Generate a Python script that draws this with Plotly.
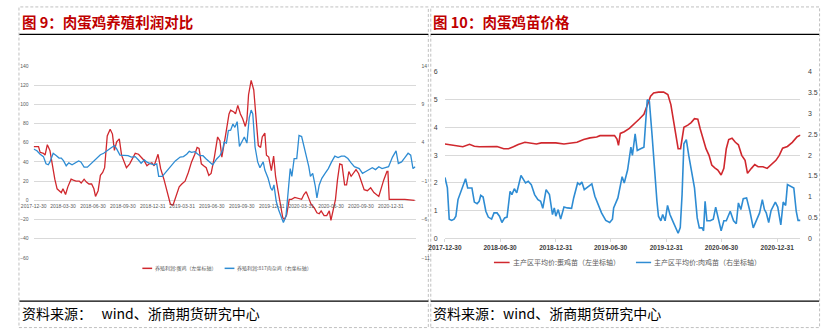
import plotly.graph_objects as go

# ---------------- DATA ----------------
# Figure 9: layer (egg) farming profit, left axis (元/只)
egg_profit_dates = ["2017-12-30","2018-01-14","2018-01-19","2018-01-29","2018-02-03","2018-02-10","2018-02-18","2018-02-26","2018-03-05","2018-03-12",
    "2018-03-20","2018-03-25","2018-03-30","2018-04-07","2018-04-14","2018-04-24","2018-05-01","2018-05-09","2018-05-19","2018-05-25",
    "2018-06-03","2018-06-10","2018-06-18","2018-06-26","2018-07-03","2018-07-08","2018-07-16","2018-07-23","2018-07-30","2018-08-05",
    "2018-08-13","2018-08-22","2018-08-29","2018-09-04","2018-09-11","2018-09-19","2018-09-26","2018-10-04","2018-10-11","2018-10-21",
    "2018-10-28","2018-11-07","2018-11-17","2018-11-25","2018-12-03","2018-12-13","2018-12-20","2018-12-28","2019-01-04","2019-01-16",
    "2019-01-24","2019-02-03","2019-02-13","2019-02-23","2019-03-03","2019-03-13","2019-03-22","2019-03-30","2019-04-09","2019-04-19",
    "2019-04-29","2019-05-09","2019-05-16","2019-05-22","2019-05-29","2019-06-05","2019-06-13","2019-06-21","2019-06-28","2019-07-08",
    "2019-07-18","2019-07-25","2019-07-31","2019-08-12","2019-08-22","2019-08-27","2019-09-06","2019-09-11","2019-09-18","2019-09-26",
    "2019-10-03","2019-10-11","2019-10-16","2019-10-21","2019-10-29","2019-11-06","2019-11-13","2019-11-20","2019-11-27","2019-12-02",
    "2019-12-10","2019-12-15","2019-12-22","2019-12-30","2020-01-06","2020-01-12","2020-01-19","2020-01-26","2020-02-03","2020-02-08",
    "2020-02-15","2020-02-23","2020-03-01","2020-03-11","2020-03-21","2020-04-01","2020-04-08","2020-04-15","2020-04-23","2020-04-30",
    "2020-05-10","2020-05-18","2020-05-25","2020-05-31","2020-06-09","2020-06-17","2020-06-25","2020-06-30","2020-07-07","2020-07-14",
    "2020-07-20","2020-07-27","2020-08-03","2020-08-11","2020-08-17","2020-08-24","2020-08-31","2020-09-08","2020-09-15","2020-09-23",
    "2020-09-30","2020-10-10","2020-10-20","2020-10-30","2020-11-09","2020-11-24","2020-12-09","2020-12-19","2020-12-22","2020-12-26",
    "2021-01-13","2021-02-12","2021-03-14"]
egg_profit = [56,56,50,49,47,58,52,34,22,12,
    9,8,12,6,14,22,21,20,20,18,
    22,19,17,17,12,4,10,26,29,34,
    67,74,69,52,61,64,47,41,34,38,
    43,49,48,45,42,36,38,39,36,48,
    33,22,9,-4,-5,5,14,17,20,29,
    40,48,55,54,38,36,34,26,28,45,
    66,62,45,69,90,94,92,90,99,90,
    85,77,84,110,125,115,90,57,55,66,
    70,47,45,31,46,25,11,-3,-18,-20,
    -15,1,1,3,2,1,6,9,2,-4,
    -8,-13,-14,-11,-16,-16,-11,-21,-10,1,
    21,38,37,16,16,30,25,29,32,28,
    21,11,10,13,8,4,21,30,30,1,
    1,1,0]

# Figure 9: 817 broiler farming profit, right axis
broiler_profit_dates = ["2017-12-30","2018-01-09","2018-01-19","2018-01-29","2018-02-06","2018-02-13","2018-02-18","2018-02-28","2018-03-10","2018-03-18",
    "2018-03-25","2018-04-01","2018-04-09","2018-04-17","2018-04-27","2018-05-07","2018-05-17","2018-05-24","2018-06-03","2018-06-13",
    "2018-06-23","2018-07-03","2018-07-13","2018-07-23","2018-08-02","2018-08-12","2018-08-22","2018-09-04","2018-09-11","2018-09-21",
    "2018-10-01","2018-10-16","2018-10-26","2018-11-07","2018-11-17","2018-11-25","2018-12-05","2018-12-13","2018-12-25","2019-01-04",
    "2019-01-12","2019-01-18","2019-01-29","2019-02-08","2019-02-23","2019-03-10","2019-03-25","2019-04-04","2019-04-14","2019-04-22",
    "2019-04-29","2019-05-09","2019-05-24","2019-06-03","2019-06-13","2019-06-23","2019-07-03","2019-07-15","2019-07-25","2019-08-02",
    "2019-08-07","2019-08-14","2019-08-20","2019-08-27","2019-09-03","2019-09-09","2019-09-16","2019-09-23","2019-10-01","2019-10-08",
    "2019-10-16","2019-10-23","2019-10-29","2019-11-03","2019-11-10","2019-11-18","2019-11-25","2019-11-30","2019-12-05","2019-12-10",
    "2019-12-20","2019-12-28","2020-01-02","2020-01-07","2020-01-14","2020-01-21","2020-01-29","2020-02-05","2020-02-13","2020-02-20",
    "2020-02-26","2020-03-02","2020-03-09","2020-03-17","2020-03-24","2020-04-01","2020-04-08","2020-04-16","2020-04-23","2020-04-28",
    "2020-05-05","2020-05-13","2020-05-18","2020-05-25","2020-06-02","2020-06-12","2020-06-22","2020-07-02","2020-07-12","2020-07-22",
    "2020-08-01","2020-08-11","2020-08-21","2020-08-31","2020-09-10","2020-09-25","2020-10-05","2020-10-15","2020-10-25","2020-11-04",
    "2020-11-14","2020-11-24","2020-12-04","2020-12-14","2020-12-24","2021-01-05","2021-01-16","2021-01-23","2021-02-02","2021-02-12",
    "2021-02-22","2021-03-02","2021-03-09","2021-03-16"]
broiler_profit = [3.18,2.96,2.5,2.19,1.25,1.13,1.5,2.63,2.31,2.0,
    2.0,1.63,1.0,1.38,1.13,1.38,1.63,1.5,0.81,0.81,
    1.25,1.63,2.13,2.44,2.63,3.0,3.25,3.63,3.19,2.38,
    2.38,2.31,2.13,2.19,1.75,1.33,1.75,1.46,1.25,1.13,
    1.25,-0.38,-0.38,0.13,1.0,1.63,2.13,2.19,2.5,2.88,
    2.75,2.84,2.31,2.31,1.88,1.46,1.13,1.88,2.31,3.0,
    4.08,3.95,5.58,5.63,6.44,6.0,6.75,3.5,4.08,4.75,
    3.95,7.25,8.25,7.75,3.44,1.5,0.75,1.08,1.5,0.44,
    -0.63,-1.91,-2.21,-1.5,-3.63,-4.7,-5.75,-6.38,-5.55,-2.56,
    0.63,-0.38,1.94,1.94,4.94,4.8,3.63,2.13,0.88,-0.38,
    0.0,-1.7,-3.2,-1.5,-0.63,0.0,0.63,1.5,2.25,2.06,
    2.25,2.25,1.94,1.38,0.88,0.63,0.0,0.25,0.5,0.75,
    0.5,0.88,0.63,0.75,0.88,2.13,2.93,1.3,1.5,2.06,
    2.63,2.38,0.63,0.88]

# Figure 10: egg-chick price (left axis, 元/羽)
egg_chick_dates = ["2017-12-30","2018-01-15","2018-02-06","2018-02-27","2018-03-21","2018-04-06","2018-04-22","2018-05-14","2018-06-04","2018-06-20",
    "2018-07-12","2018-07-28","2018-08-13","2018-08-29","2018-09-20","2018-10-06","2018-10-28","2018-11-13","2018-12-04","2018-12-31",
    "2019-01-27","2019-02-18","2019-03-11","2019-04-02","2019-04-23","2019-05-15","2019-05-26","2019-06-16","2019-07-13","2019-07-21",
    "2019-07-26","2019-08-01","2019-08-14","2019-08-31","2019-09-16","2019-10-02","2019-10-18","2019-10-29","2019-11-09","2019-11-19",
    "2019-12-05","2019-12-22","2020-01-05","2020-01-15","2020-01-23","2020-01-30","2020-02-08","2020-02-16","2020-02-22","2020-02-27",
    "2020-03-11","2020-03-22","2020-04-02","2020-04-13","2020-04-21","2020-05-02","2020-05-10","2020-05-20","2020-05-29","2020-06-08",
    "2020-06-18","2020-06-29","2020-07-08","2020-07-16","2020-07-24","2020-08-04","2020-08-15","2020-08-25","2020-09-05","2020-09-16",
    "2020-09-24","2020-10-07","2020-10-18","2020-10-29","2020-11-14","2020-11-28","2020-12-11","2020-12-27","2021-01-07","2021-01-18",
    "2021-02-03","2021-02-19","2021-03-07","2021-03-18"]
egg_chick = [3.40,3.37,3.35,3.30,3.39,3.32,3.30,3.30,3.29,3.31,
    3.23,3.23,3.30,3.38,3.46,3.44,3.40,3.44,3.45,3.44,
    3.40,3.42,3.46,3.56,3.62,3.65,3.70,3.70,3.70,3.58,
    3.35,3.78,3.84,3.96,4.11,4.29,4.47,4.76,5.12,5.24,
    5.27,5.27,5.18,4.82,4.29,3.70,3.23,3.23,3.64,4.00,
    4.08,4.17,4.31,4.29,3.94,3.52,3.23,2.99,2.64,2.54,
    2.46,2.28,2.52,3.23,3.56,3.61,3.46,3.37,2.99,2.81,
    2.34,2.52,2.66,2.58,2.58,2.52,2.64,2.81,2.99,3.25,
    3.31,3.46,3.66,3.72]

# Figure 10: broiler-chick price (right axis)
broiler_chick_dates = ["2017-12-30","2018-01-07","2018-01-13","2018-01-21","2018-01-29","2018-02-04","2018-02-11","2018-02-22","2018-03-08","2018-03-15",
    "2018-03-29","2018-04-06","2018-04-15","2018-04-22","2018-04-27","2018-05-05","2018-05-14","2018-05-22","2018-06-02","2018-06-10",
    "2018-06-20","2018-06-28","2018-07-06","2018-07-15","2018-07-23","2018-08-02","2018-08-08","2018-08-16","2018-08-24","2018-09-07",
    "2018-09-14","2018-09-22","2018-10-01","2018-10-11","2018-10-22","2018-11-02","2018-11-11","2018-11-18","2018-11-29","2018-12-10",
    "2018-12-20","2018-12-26","2018-12-31","2019-01-08","2019-01-16","2019-01-27","2019-02-07","2019-02-21","2019-02-28","2019-03-13",
    "2019-03-20","2019-03-27","2019-04-04","2019-04-18","2019-04-29","2019-05-09","2019-05-20","2019-05-31","2019-06-14","2019-06-27",
    "2019-07-06","2019-07-10","2019-07-24","2019-08-07","2019-08-14","2019-08-25","2019-09-05","2019-09-10","2019-09-19","2019-09-26",
    "2019-10-07","2019-10-18","2019-10-29","2019-11-05","2019-11-14","2019-11-23","2019-11-30","2019-12-05","2019-12-13","2019-12-19",
    "2019-12-27","2020-01-04","2020-01-12","2020-01-21","2020-01-30","2020-02-08","2020-02-15","2020-02-21","2020-02-27","2020-03-06",
    "2020-03-14","2020-03-22","2020-04-02","2020-04-11","2020-04-18","2020-04-27","2020-05-02","2020-05-07","2020-05-13","2020-05-24",
    "2020-06-03","2020-06-11","2020-06-20","2020-06-29","2020-07-08","2020-07-16","2020-07-29","2020-08-09","2020-08-18","2020-08-25",
    "2020-09-02","2020-09-10","2020-09-21","2020-10-02","2020-10-13","2020-10-24","2020-11-03","2020-11-12","2020-11-19","2020-11-25",
    "2020-12-03","2020-12-11","2020-12-25","2021-01-02","2021-01-12","2021-01-20","2021-01-28","2021-02-03","2021-02-14","2021-02-24",
    "2021-03-04","2021-03-10","2021-03-18"]
broiler_chick = [1.46,1.21,0.46,0.43,0.46,0.53,0.93,1.13,1.43,1.21,
    1.21,0.87,0.83,0.89,1.03,0.99,0.65,0.51,0.46,0.61,
    0.61,0.53,0.38,0.49,0.51,1.13,1.05,1.19,1.09,1.51,
    1.41,1.33,1.37,1.29,1.05,0.93,0.89,0.72,1.17,1.05,
    0.57,0.73,0.53,0.69,0.46,0.75,0.73,0.72,0.97,1.33,
    1.29,1.35,1.17,1.25,1.31,1.01,0.81,0.61,0.43,0.38,
    0.46,0.73,0.97,1.48,1.33,1.64,2.19,1.99,2.51,2.11,
    2.15,2.19,3.33,3.29,2.47,1.52,0.89,0.53,0.42,0.57,
    0.42,0.79,0.57,0.42,0.26,0.12,0.26,1.05,2.27,2.37,
    1.99,1.68,1.21,0.49,0.25,0.25,0.18,0.89,0.42,0.42,
    0.46,0.75,0.42,0.18,0.42,0.42,0.65,0.42,0.35,0.85,
    0.69,0.95,0.97,0.65,0.25,0.42,0.61,0.93,0.69,0.61,
    0.38,0.67,0.87,0.75,0.32,0.87,0.79,1.29,1.25,1.21,
    0.65,0.43,0.43]

left_x_ticks = ["2017-12-30","2018-03-30","2018-06-30","2018-09-30","2018-12-31","2019-03-31","2019-06-30",
                "2019-09-30","2019-12-31","2020-03-31","2020-06-30","2020-09-30","2020-12-31"]
right_x_ticks = ["2017-12-30","2018-06-30","2018-12-31","2019-06-30","2019-12-31","2020-06-30","2020-12-31"]
left_y_ticks = [-60,-40,-20,0,20,40,60,80,100,120,140]
left_y2_ticks = [-11,-6,-1,4,9,14]
right_y_ticks = [0,1,2,3,4,5,6]
right_y2_ticks = [0,0.5,1,1.5,2,2.5,3,3.5,4]

name_egg_profit = "养殖利润:蛋鸡（左坐标轴）"
name_broiler_profit = "养殖利润:817肉杂鸡（右坐标轴）"
name_egg_chick = "主产区平均价:蛋鸡苗（左坐标轴）"
name_broiler_chick = "主产区平均价:肉鸡苗（右坐标轴）"
title_left = "图 9：肉蛋鸡养殖利润对比"
title_right = "图 10：肉蛋鸡苗价格"
source_left = "资料来源：\u00a0\u00a0 wind、浙商期货研究中心"
source_right = "资料来源：wind、浙商期货研究中心"

# ---------------- STYLE ----------------
W, H = 823, 334
RED = "#D0282E"
BLUE = "#2E8CD3"
GRID = "#D9D9D9"
TXT = "#595959"
NUM_FONT = "Liberation Sans"
CJK = "Noto Sans CJK SC"

def fx(p):
    return p / W

def fy(p):
    return 1 - p / H

L_RANGE = [-60, 140]
L_DOM = [fy(259.3), fy(63.3)]
R_DOM = [fy(239.3), fy(69.3)]
zero_pos = L_DOM[0] + (0 - L_RANGE[0]) / (L_RANGE[1] - L_RANGE[0]) * (L_DOM[1] - L_DOM[0])

fig = go.Figure()
fig.add_trace(go.Scatter(x=egg_profit_dates, y=egg_profit, name=name_egg_profit, mode="lines",
                         line=dict(color=RED, width=1.3), xaxis="x", yaxis="y", showlegend=False))
fig.add_trace(go.Scatter(x=broiler_profit_dates, y=broiler_profit, name=name_broiler_profit, mode="lines",
                         line=dict(color=BLUE, width=1.3), xaxis="x", yaxis="y2", showlegend=False))
fig.add_trace(go.Scatter(x=egg_chick_dates, y=egg_chick, name=name_egg_chick, mode="lines",
                         line=dict(color=RED, width=1.6), xaxis="x2", yaxis="y3", showlegend=False))
fig.add_trace(go.Scatter(x=broiler_chick_dates, y=broiler_chick, name=name_broiler_chick, mode="lines",
                         line=dict(color=BLUE, width=1.6), xaxis="x2", yaxis="y4", showlegend=False))

small = dict(family=NUM_FONT, size=5, color=TXT)
fig.update_layout(
    width=W, height=H, margin=dict(l=0, r=0, t=0, b=0),
    paper_bgcolor="white", plot_bgcolor="white",
    xaxis=dict(domain=[fx(17), fx(407)], range=["2017-12-30", "2021-03-17"], type="date",
               anchor="free", position=zero_pos, showgrid=False, showline=False, zeroline=False,
               tickvals=left_x_ticks, ticktext=left_x_ticks, tickfont=small, ticks="",
               ticklabelstandoff=2),
    yaxis=dict(domain=L_DOM, range=L_RANGE, tickvals=left_y_ticks, showgrid=True, gridcolor=GRID,
               gridwidth=1, zeroline=False, showline=False, tickfont=small, anchor="x",
               ticks="outside", ticklen=3, tickcolor="rgba(0,0,0,0)"),
    yaxis2=dict(overlaying="y", side="right", range=[-11, 14], tickvals=left_y2_ticks, showgrid=False,
                zeroline=False, showline=False, tickfont=small, anchor="x",
                ticks="outside", ticklen=4, tickcolor="rgba(0,0,0,0)"),
    xaxis2=dict(domain=[fx(437), fx(800)], range=["2017-12-30", "2021-03-18"], type="date",
                anchor="y3", showgrid=False, showline=True, linecolor=GRID, linewidth=1, zeroline=False,
                tickvals=right_x_ticks, ticktext=right_x_ticks, ticks="outside", ticklen=3, tickcolor=GRID,
                tickfont=dict(family=NUM_FONT, size=6.5, color="#404040", weight="bold")),
    yaxis3=dict(domain=R_DOM, range=[0, 6], tickvals=right_y_ticks, showgrid=True, gridcolor=GRID,
                gridwidth=1, zeroline=False, showline=False, anchor="x2",
                tickfont=dict(family=NUM_FONT, size=7, color="#404040"),
                ticks="outside", ticklen=5, tickcolor="rgba(0,0,0,0)"),
    yaxis4=dict(overlaying="y3", side="right", range=[0, 4], tickvals=right_y2_ticks, showgrid=False,
                zeroline=False, showline=False, anchor="x2",
                tickfont=dict(family=NUM_FONT, size=7, color="#404040"),
                ticks="outside", ticklen=5, tickcolor="rgba(0,0,0,0)"),
)

shapes = []
# dashed panel borders
for x0, x1 in [(2, 420), (422.5, 819.5)]:
    shapes.append(dict(type="rect", xref="paper", yref="paper", x0=fx(x0), x1=fx(x1), y0=fy(330.5), y1=fy(3),
                       line=dict(color="#C0C0C0", width=1, dash="3px,2px"), fillcolor="rgba(0,0,0,0)", layer="below"))
# black rules under titles and above sources
for x0, x1 in [(2.5, 420), (422.5, 819)]:
    for yy in (31, 303.5):
        shapes.append(dict(type="line", xref="paper", yref="paper", x0=fx(x0), x1=fx(x1), y0=fy(yy), y1=fy(yy),
                           line=dict(color="black", width=1.3)))
# manual legend swatches
legend_items = [
    (128, 138, 270, RED, name_egg_profit, 5),
    (212, 222, 270, BLUE, name_broiler_profit, 5),
    (487, 503, 264, RED, name_egg_chick, 7),
    (632, 647.5, 264, BLUE, name_broiler_chick, 7),
]
annotations = []
for x0, x1, yy, col, label, fs in legend_items:
    shapes.append(dict(type="line", xref="paper", yref="paper", x0=fx(x0), x1=fx(x1), y0=fy(yy), y1=fy(yy),
                       line=dict(color=col, width=1.5)))
    annotations.append(dict(xref="paper", yref="paper", x=fx(x1 + 1), y=fy(yy), text=label, showarrow=False,
                            xanchor="left", yanchor="middle", font=dict(family=CJK, size=fs, color=TXT)))

for xx, txt in [(3, title_left), (423, title_right)]:
    annotations.append(dict(xref="paper", yref="paper", x=fx(xx), y=fy(17.5), text=txt, showarrow=False,
                            xanchor="left", yanchor="middle",
                            font=dict(family=CJK, size=14.5, color="#C00000", weight="bold")))
for xx, txt in [(3, source_left), (423, source_right)]:
    annotations.append(dict(xref="paper", yref="paper", x=fx(xx), y=fy(316), text=txt, showarrow=False,
                            xanchor="left", yanchor="middle",
                            font=dict(family=CJK, size=14, color="black")))

fig.update_layout(shapes=shapes, annotations=annotations)
fig.write_html("out.html")
